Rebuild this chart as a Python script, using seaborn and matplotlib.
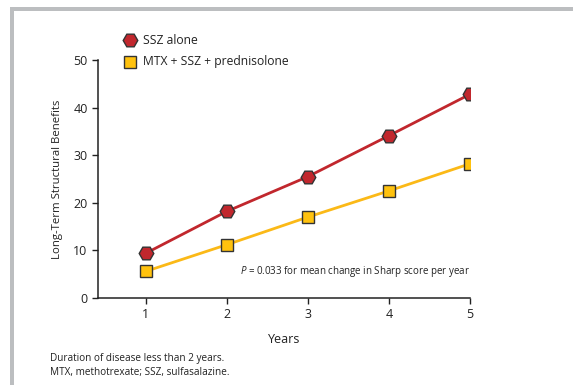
import numpy as np
import pandas as pd
import seaborn as sns
import matplotlib.pyplot as plt
from matplotlib.patches import Rectangle

years = [1, 2, 3, 4, 5]
ssz_alone = [9.4, 18.2, 25.5, 34.1, 42.8]
mtx_combo = [5.6, 11.2, 17.0, 22.5, 28.2]
series_names = ["SSZ alone", "MTX + SSZ + prednisolone"]

df = pd.DataFrame({
    "Years": years * 2,
    "value": ssz_alone + mtx_combo,
    "group": [series_names[0]] * 5 + [series_names[1]] * 5,
})

sns.set_style("ticks")
plt.rcParams["font.family"] = ["Open Sans", "DejaVu Sans"]
plt.rcParams["mathtext.fontset"] = "custom"
plt.rcParams["mathtext.it"] = "Open Sans:italic"
plt.rcParams["mathtext.rm"] = "Open Sans"

fig = plt.figure(figsize=(5.73, 3.85), dpi=100)
ax = fig.add_axes([0.171, 0.226, 0.649, 0.618])

palette = {series_names[0]: "#c1272d", series_names[1]: "#fbb917"}
sns.lineplot(data=df, x="Years", y="value", hue="group", style="group",
             palette=palette, markers={series_names[0]: "H", series_names[1]: "s"},
             dashes=False, linewidth=2, markersize=10, markeredgecolor="#333333",
             markeredgewidth=1.0, ax=ax, legend=False)
ax.lines[0].set_markersize(10.5)
ax.lines[1].set_markersize(8.5)
ax.lines[1].set_markerfacecolor("#ffc20e")

ax.set_xlim(0.41, 5)
ax.set_ylim(0, 50)
ax.set_xticks(years)
ax.set_yticks([0, 10, 20, 30, 40, 50])
ax.tick_params(labelsize=9, length=4, width=1, color="#222222", labelcolor="#222222")
sns.despine(ax=ax)
for s in ["left", "bottom"]:
    ax.spines[s].set_linewidth(1.1)
    ax.spines[s].set_color("#222222")
ax.set_xlabel("Years", fontsize=9, color="#222222", labelpad=8)
ax.set_ylabel("Long-Term Structural Benefits", fontsize=8.2, color="#222222", labelpad=7)

# legend drawn by hand
ax.plot([0.086], [1.084], marker="H", markersize=10.5, color="#c1272d", markeredgecolor="#333333",
        transform=ax.transAxes, clip_on=False)
ax.text(0.12, 1.084, series_names[0], transform=ax.transAxes, fontsize=8.7, va="center", color="#222222")
ax.plot([0.086], [0.992], marker="s", markersize=8.5, color="#ffc20e", markeredgecolor="#333333",
        transform=ax.transAxes, clip_on=False)
ax.text(0.12, 0.992, series_names[1], transform=ax.transAxes, fontsize=8.7, va="center", color="#222222")

ax.text(5, 5.5, r"$\it{P}$ = 0.033 for mean change in Sharp score per year",
        fontsize=7, ha="right", va="center", color="#222222")

fig.text(50 / 573, 1 - 358 / 385, "Duration of disease less than 2 years.", fontsize=7.2,
         va="center", color="#222222")
fig.text(50 / 573, 1 - 372 / 385, "MTX, methotrexate; SSZ, sulfasalazine.", fontsize=7.2,
         va="center", color="#222222")

# grey frame at top and left
fig.add_artist(Rectangle((10 / 573, 0), 4 / 573, 1 - 7 / 385, transform=fig.transFigure,
                         color="#bcbec0", lw=0))
fig.add_artist(Rectangle((10 / 573, 1 - 11 / 385), 1, 4 / 385, transform=fig.transFigure,
                         color="#bcbec0", lw=0))

fig.savefig("out.png", dpi=100)
